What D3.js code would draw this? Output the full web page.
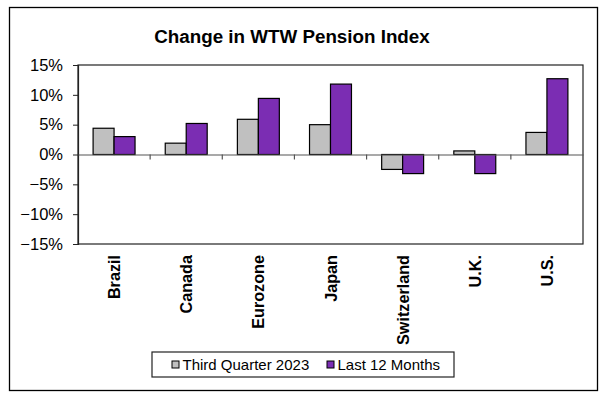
<!DOCTYPE html>
<html>
<head>
<meta charset="utf-8">
<script src="https://cdn.jsdelivr.net/npm/d3@7"></script>
<style>
  body { margin: 0; background: #fff; }
  text { font-family: Arial, "Liberation Sans", sans-serif; }
</style>
</head>
<body>
<svg width="609" height="396"></svg>
<script>
var categories = ["Brazil", "Canada", "Eurozone", "Japan", "Switzerland", "U.K.", "U.S."];
var thirdQuarter = [4.4, 1.9, 5.9, 5.0, -2.5, 0.6, 3.7];
var last12Months = [3.0, 5.2, 9.4, 11.8, -3.2, -3.2, 12.7];
var seriesNames = ["Third Quarter 2023", "Last 12 Months"];
var seriesColors = ["#c0c0c0", "#7b2db3"];
var yTicks = [-15, -10, -5, 0, 5, 10, 15];

var svg = d3.select("svg"),
  width = +svg.attr("width"),
  height = +svg.attr("height");

// outer frame
svg.append("rect")
  .attr("x", 9.5).attr("y", 7.5)
  .attr("width", 588).attr("height", 383)
  .attr("fill", "none").attr("stroke", "#000").attr("stroke-width", 1.3);

svg.append("text")
  .attr("x", 292).attr("y", 43)
  .attr("text-anchor", "middle")
  .attr("font-size", 18.8).attr("font-weight", "bold")
  .text("Change in WTW Pension Index");

var plotL = 78, plotR = 583, plotT = 65, plotB = 244;

var x = d3.scaleBand().domain(categories).range([plotL, plotR]);
var y = d3.scaleLinear().domain([-15, 15]).range([plotB, plotT]);

// plot area border
svg.append("rect")
  .attr("x", plotL).attr("y", plotT)
  .attr("width", plotR - plotL).attr("height", plotB - plotT)
  .attr("fill", "none").attr("stroke", "#222").attr("stroke-width", 1.2);

// y axis
var yAxis = svg.append("g")
  .attr("transform", "translate(" + plotL + ",0)")
  .call(d3.axisLeft(y).tickValues(yTicks).tickSize(5).tickPadding(10)
    .tickFormat(function(d) { return (d < 0 ? "\u2212" + (-d) : d) + "%"; }));
yAxis.select(".domain").attr("stroke", "#222").attr("stroke-width", 1.2);
yAxis.selectAll("line").attr("stroke", "#222");
yAxis.selectAll("text").attr("font-size", 16.5).attr("fill", "#000")
  .attr("font-family", "Arial, 'Liberation Sans', sans-serif");

var inner = d3.scaleBand().domain([0, 1]).range([0, x.bandwidth()]).paddingOuter(0.72).paddingInner(0);

var rows = categories.map(function(c, i) {
  return { cat: c, vals: [thirdQuarter[i], last12Months[i]] };
});

var groups = svg.append("g").selectAll("g")
  .data(rows)
  .enter().append("g")
  .attr("transform", function(d) { return "translate(" + x(d.cat) + ",0)"; });

groups.selectAll("rect")
  .data(function(d) { return d.vals.map(function(v, k) { return { v: v, k: k }; }); })
  .enter().append("rect")
  .attr("x", function(d) { return inner(d.k); })
  .attr("width", inner.bandwidth())
  .attr("y", function(d) { return y(Math.max(0, d.v)); })
  .attr("height", function(d) { return Math.abs(y(d.v) - y(0)); })
  .attr("fill", function(d) { return seriesColors[d.k]; })
  .attr("stroke", "#000").attr("stroke-width", 1.2);

// zero line with category ticks
var xAxis = svg.append("g")
  .attr("transform", "translate(0," + y(0) + ")")
  .call(d3.axisBottom(x).tickSize(0).tickFormat(""));
xAxis.select(".domain").attr("stroke", "#555").attr("stroke-width", 1.2);
svg.append("g").selectAll("line")
  .data(categories.slice(1))
  .enter().append("line")
  .attr("x1", function(d) { return x(d); })
  .attr("x2", function(d) { return x(d); })
  .attr("y1", y(0)).attr("y2", y(0) + 5)
  .attr("stroke", "#555").attr("stroke-width", 1.2);

// category labels
svg.append("g").selectAll("text")
  .data(categories)
  .enter().append("text")
  .attr("transform", function(d) {
    return "translate(" + (x(d) + x.bandwidth() / 2 + 6) + ",255) rotate(-90)";
  })
  .attr("text-anchor", "end")
  .attr("font-size", 16.2).attr("font-weight", "bold")
  .text(function(d) { return d; });

// legend
svg.append("rect")
  .attr("x", 152).attr("y", 352)
  .attr("width", 302).attr("height", 25)
  .attr("fill", "#fff").attr("stroke", "#222").attr("stroke-width", 1.2);

var legendX = [172, 327];
seriesNames.forEach(function(name, i) {
  svg.append("rect")
    .attr("x", legendX[i]).attr("y", 361)
    .attr("width", 7).attr("height", 7)
    .attr("fill", seriesColors[i]).attr("stroke", "#000").attr("stroke-width", 1);
  svg.append("text")
    .attr("x", legendX[i] + 10.5).attr("y", 370)
    .attr("font-size", 15)
    .text(name);
});
</script>
</body>
</html>
